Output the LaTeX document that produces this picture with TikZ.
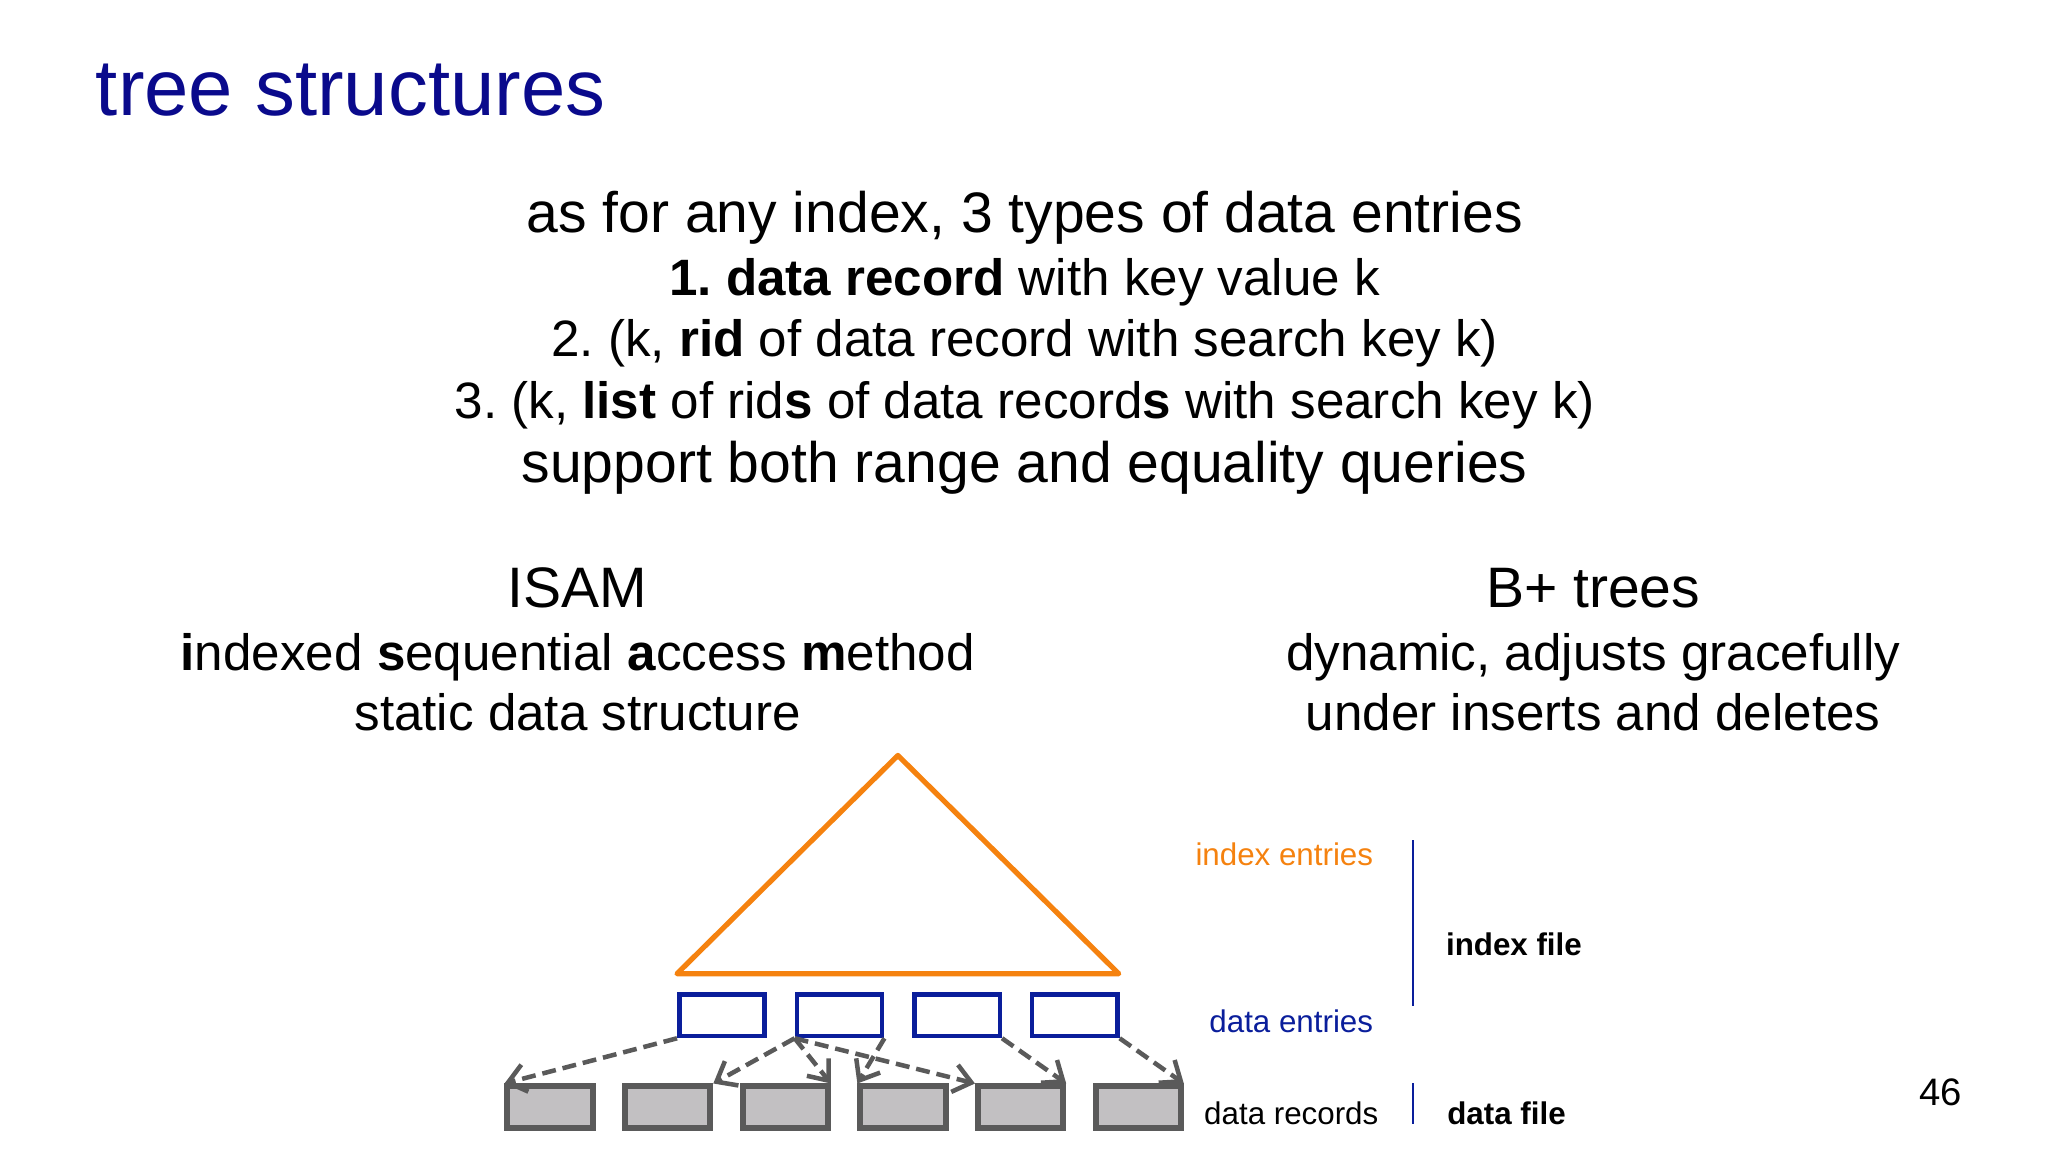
\documentclass[tikz,border=0pt]{standalone}
\usepackage{fontspec}
\setmainfont{Liberation Sans}
\usetikzlibrary{arrows.meta}
\usetikzlibrary{positioning}
\definecolor{titleblue}{HTML}{0A0A8C}
\definecolor{treeorange}{HTML}{F5820F}
\definecolor{entryblue}{HTML}{0A1E9B}
\definecolor{recgray}{HTML}{5A5A5A}
\definecolor{recfill}{HTML}{C2C0C2}
\frenchspacing
\tikzset{
  body/.style={font=\fontsize{14.7}{18}\selectfont, anchor=base},
  big/.style={body, font=\fontsize{16.4}{19}\selectfont},
  label/.style={font=\fontsize{9}{11}\selectfont, anchor=base east},
  entry/.style={draw=entryblue, line width=1.3pt, minimum width=24.5pt, minimum height=12pt, inner sep=0pt, anchor=north west},
  record/.style={draw=recgray, fill=recfill, line width=1.7pt, minimum width=24.5pt, minimum height=12pt, inner sep=0pt, anchor=north west},
  link/.style={->, draw=recgray, line width=1.3pt, dash pattern=on 4pt off 2pt},
}

\begin{document}
\begin{tikzpicture}[x=0.013196cm, y=-0.013196cm, >={Straight Barb[length=5pt,width=8pt]}]
        \useasboundingbox (0,0) rectangle (1567,881.5);

        \node[anchor=base west, text=titleblue, font=\fontsize{22.9}{26}\selectfont] (title) at (64,88) {tree structures};

        \node[big] (l1) at (784,178) {as for any index, 3 types of data entries};
        \node[body] (l2) at (784,226) {\textbf{1. data record} with key value k};
        \node[body] (l3) at (784,273) {2. (k, \textbf{rid} of data record with search key k)};
        \node[body] (l4) at (784,320) {3. (k, \textbf{list} of rid\textbf{s} of data record\textbf{s} with search key k)};
        \node[big] (l5) at (784,369) {support both range and equality queries};

        \node[big] (isam) at (442,465) {ISAM};
        \node[body] (isam1) at (442,513) {\textbf{i}ndexed \textbf{s}equential \textbf{a}ccess \textbf{m}ethod};
        \node[body] (isam2) at (442,559) {static data structure};
        \node[big] (bp) at (1219,465) {B+ trees};
        \node[body] (bp1) at (1219,513) {dynamic, adjusts gracefully};
        \node[body] (bp2) at (1219,559) {under inserts and deletes};

        % index tree
        \coordinate (apex) at (687,578);
        \coordinate (bl) at (518,745);
        \coordinate (br) at (856,745);
        \draw[treeorange, line width=1.5pt, line join=round] (apex) -- (bl) -- (br) -- cycle;

        % data entries and data records
        \foreach \i/\x in {1/518, 2/608, 3/698, 4/788}
          \node[entry] (e\i) at (\x,759) {};
        \foreach \i/\x in {1/386, 2/476, 3/566, 4/656, 5/746, 6/836}
          \node[record] (r\i) at (\x,829) {};

        \draw[link] (e1.south west) -- (r1.north west);
        \draw[link] (e2.south west) -- (r2.north east);
        \draw[link] (e2.south west) -- (r3.north east);
        \draw[link] (e2.south west) -- (r5.north west);
        \draw[link] (e2.south east) -- (r4.north west);
        \draw[link] (e3.south east) -- (r5.north east);
        \draw[link] (e4.south east) -- (r6.north east);

        \node[label, text=treeorange] (ie) at (1060,662) {index entries};
        \node[label, text=entryblue] (de) at (1060,790) {data entries};
        \node[label] (dr) at (1064,860) {data records};
        \node[label, anchor=base west, font=\fontsize{9}{11}\selectfont\bfseries] (ifile) at (1097,731) {index file};
        \node[label, anchor=base west, font=\fontsize{9}{11}\selectfont\bfseries] (dfile) at (1098,860) {data file};

        \coordinate (it) at (1081,643);
        \coordinate (ib) at (1081,770);
        \coordinate (dt) at (1081,829);
        \coordinate (db) at (1081,860);
        \draw[entryblue, line width=0.5pt] (it) -- (ib);
        \draw[entryblue, line width=0.5pt] (dt) -- (db);

        \node[anchor=base, font=\fontsize{11}{13}\selectfont] (page) at (1485,846) {46};
      \end{tikzpicture}
\end{document}
